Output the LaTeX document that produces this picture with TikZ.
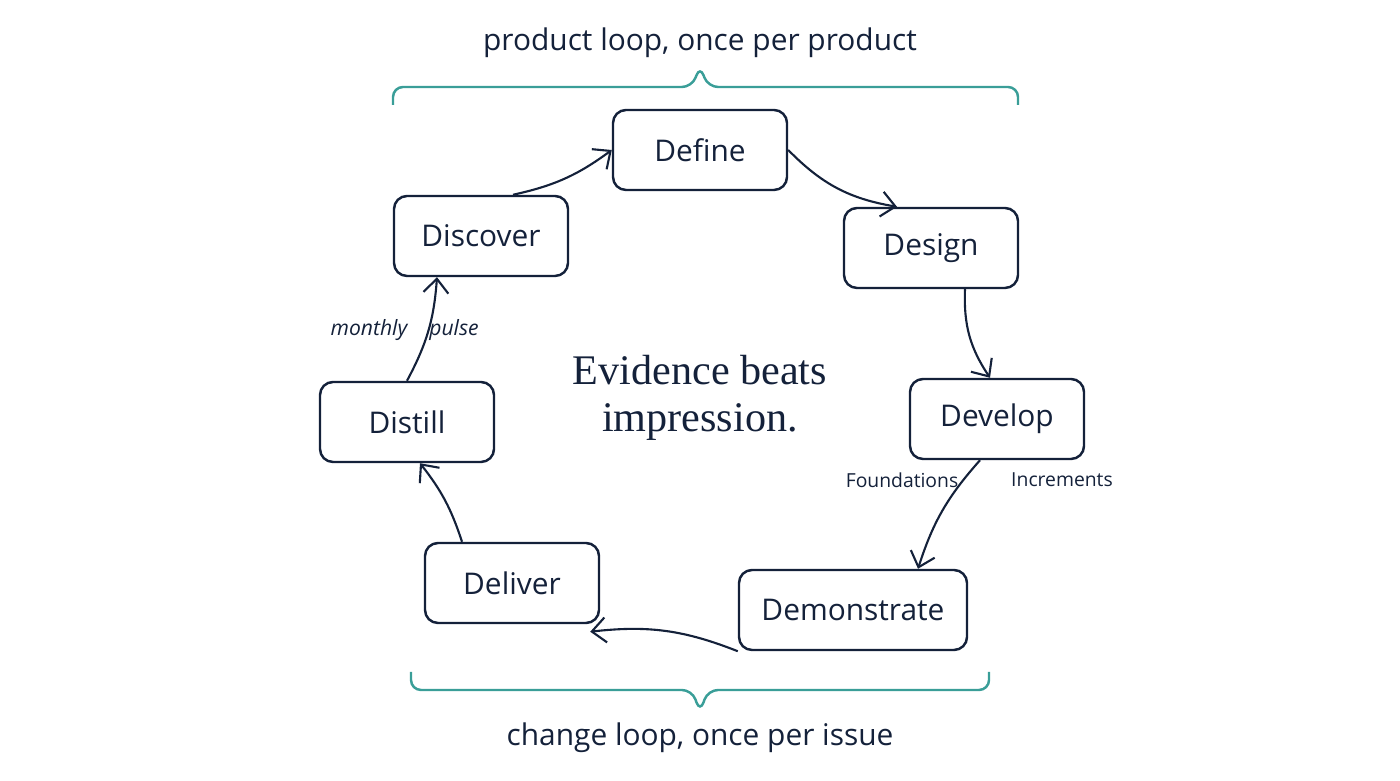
\documentclass[tikz,border=0pt]{standalone}
\usepackage{fontspec}
\setmainfont{Liberation Serif}
\setsansfont{Open Sans}
\usetikzlibrary{positioning,arrows.meta}
\definecolor{ink}{HTML}{14213A}
\definecolor{teal}{HTML}{3A9E98}
\begin{document}
\begin{tikzpicture}[x=0.2mm,y=-0.2mm,
	phase/.style={draw=ink,line width=1.4pt,rounded corners=2.6mm,minimum width=34.8mm,minimum height=16mm,text=ink,font=\sffamily\fontsize{17}{20}\selectfont},
	flow/.style={draw=ink,line width=1.2pt,-{Straight Barb[length=2.8mm,width=5mm]}},
	loop/.style={draw=teal,line width=1.4pt,rounded corners=2mm},
	tag/.style={text=ink,font=\sffamily\fontsize{11}{13}\selectfont},
	looptext/.style={text=ink,font=\sffamily\fontsize{17}{20}\selectfont}]
	\useasboundingbox (0,0) rectangle (1400,781);
	% the seven steps
	\node[phase] (define) at (700,150) {Define};
	\node[phase] (design) at (931,248) {Design};
	\node[phase] (develop) at (997,419) {Develop};
	\node[phase,minimum width=45.6mm] (demo) at (853,610) {Demonstrate};
	\node[phase] (deliver) at (512,583) {Deliver};
	\node[phase] (distill) at (407,422) {Distill};
	\node[phase] (discover) at (481,236) {Discover};
	% the loop
	\draw[flow] (define.east) to[bend right=18] ([xshift=-6.8mm]design.north);
	\draw[flow] ([xshift=6.8mm]design.south) to[bend right=18] ([xshift=-1.4mm]develop.north);
	\draw[flow] ([xshift=-3.4mm]develop.south) to[bend right=12] ([xshift=13mm]demo.north);
	\draw[flow] (demo.south west) to[bend right=14] ([xshift=-2mm,yshift=-1.5mm]deliver.south east);
	\draw[flow] ([xshift=-10mm]deliver.north) to[bend right=10] ([xshift=2.6mm]distill.south);
	\draw[flow] (distill.north) to[bend right=12] ([xshift=-8.8mm]discover.south);
	\draw[flow] ([xshift=6.4mm]discover.north) to[bend right=12] (define.west);
	% labels
	\node[tag] (found) at (902,480) {Foundations};
	\node[tag] (incr) at (1062,480) {Increments};
	\node[tag,font=\sffamily\itshape\fontsize{12}{14}\selectfont] (monthly) at (369,330) {monthly};
	\node[tag,font=\sffamily\itshape\fontsize{12}{14}\selectfont] (pulse) at (454,330) {pulse};
	\node[text=ink,align=center,font=\fontsize{24}{27}\selectfont] (motto) at (700,398) {Evidence beats\\impression.};
	% braces
	\draw[loop] (393,105) |- (692,87) -- (700,66) -- (708,87) -| (1018,105);
	\node[looptext] (product) at (700,43) {product loop, once per product};
	\draw[loop] (411,672) |- (692,690) -- (700,712) -- (708,690) -| (989,672);
	\node[looptext] (change) at (700,738) {change loop, once per issue};
\end{tikzpicture}
\end{document}
